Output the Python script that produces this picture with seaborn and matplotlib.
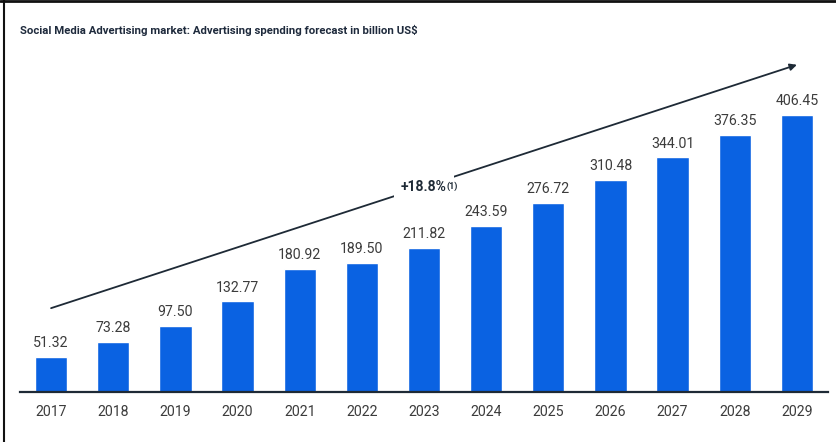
import matplotlib
matplotlib.use("Agg")
import matplotlib.pyplot as plt
from matplotlib.lines import Line2D
import seaborn as sns
import pandas as pd

years = ["2017", "2018", "2019", "2020", "2021", "2022", "2023",
         "2024", "2025", "2026", "2027", "2028", "2029"]
spending = [51.32, 73.28, 97.50, 132.77, 180.92, 189.50, 211.82,
            243.59, 276.72, 310.48, 344.01, 376.35, 406.45]
title = "Social Media Advertising market: Advertising spending forecast in billion US$"
cagr_label = "+18.8%"
cagr_note = "(1)"

df = pd.DataFrame({"year": years, "spending": spending})

sns.set_theme(style="white")
plt.rcParams["font.family"] = ["Roboto", "DejaVu Sans"]

W, H = 837, 442
fig = plt.figure(figsize=(W / 100, H / 100), dpi=100)
ax = fig.add_axes([20 / W, (H - 392) / H, (828 - 20) / W, (392 - 60) / H])

sns.barplot(data=df, x="year", y="spending", color="#0a62e2",
            saturation=1, width=0.52, ax=ax)

ax.set_xlim(-0.5, 12.5)
ax.set_ylim(0, 487)
for c in ax.containers:
    ax.bar_label(c, fmt="%.2f", padding=5, fontsize=10.2, color="#3c3c3c")

sns.despine(ax=ax, left=True, top=True, right=True)
ax.spines["bottom"].set_color("#1e2a36")
ax.spines["bottom"].set_linewidth(1.6)
ax.set_yticks([])
ax.set_xlabel("")
ax.set_ylabel("")
ax.tick_params(axis="x", length=0, pad=9, labelsize=10.2, labelcolor="#3c3c3c")

# growth arrow with CAGR label sitting on it
ax.annotate("", xy=(12, 480), xytext=(0, 123),
            arrowprops=dict(arrowstyle="-|>", color="#1e2a36", lw=1.3,
                            mutation_scale=10, shrinkA=0, shrinkB=0))
lab = ax.annotate(cagr_label, xy=(6.0, 301), ha="center", va="center",
                  fontsize=10, fontweight="bold", color="#1e2a36",
                  bbox=dict(facecolor="white", edgecolor="none", pad=5))
ax.annotate(cagr_note, xy=(1, 1), xycoords=lab, xytext=(0, -1),
            textcoords="offset points", ha="left", va="top",
            fontsize=6.5, fontweight="bold", color="#1e2a36")

fig.text(20 / W, 1 - 30 / H, title, ha="left", va="center", fontsize=8.2,
         fontweight="bold", color="#1e2a3c")

# thin frame along the top and left edges
fig.add_artist(Line2D([0, 1], [1 - 1 / H, 1 - 1 / H], color="#111111", lw=2))
fig.add_artist(Line2D([4 / W, 4 / W], [0, 1], color="#111111", lw=1.5))

fig.savefig("out.png", dpi=100)
